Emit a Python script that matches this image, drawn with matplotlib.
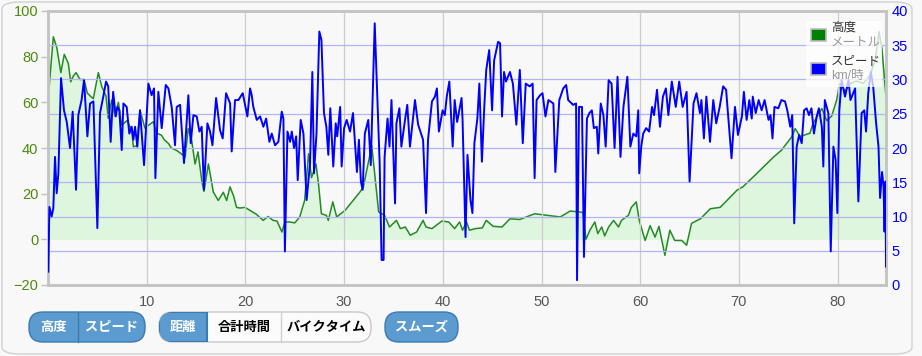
import matplotlib
matplotlib.use("Agg")
import matplotlib.pyplot as plt
from matplotlib.patches import FancyBboxPatch, Rectangle
import numpy as np

plt.rcParams['font.family'] = ['Liberation Sans', 'Noto Sans CJK JP', 'DejaVu Sans']

# elevation (m) against distance (km)
elev_km = [0.1, 0.54, 0.89, 1.3, 1.65, 2.06, 2.3, 2.56, 2.84, 3.24, 3.65, 3.98, 4.59, 5.1, 5.44,
           5.88, 6.1, 6.45, 6.79, 7.13, 7.47, 8.0, 8.48, 8.65, 8.99, 9.32, 9.83, 10.2, 10.67, 11.0,
           11.5, 11.8, 12.2, 12.5, 13.0, 13.5, 13.9, 14.2, 14.55, 14.9, 15.2, 15.6, 15.8, 16.25, 16.75,
           17.25, 17.76, 18.1, 18.44, 18.8, 19.1, 19.45, 19.96, 20.5, 21.1, 21.8, 22.3, 22.8, 23.2, 23.7,
           24.0, 24.5, 25.0, 25.5, 26.0, 26.4, 26.7, 27.15, 27.4, 27.7, 28.2, 28.4, 28.85, 29.25, 30.1,
           30.9, 31.6, 31.95, 32.8, 33.5, 34.1, 34.6, 35.3, 35.7, 36.2, 36.7, 37.35, 38.0, 38.3, 38.9,
           39.9, 40.6, 41.2, 41.7, 42.0, 42.4, 42.7, 43.3, 44.0, 44.4, 45.1, 46.0, 46.8, 47.8, 49.3,
           51.9, 52.9, 54.2, 54.5, 54.9, 55.4, 55.7, 56.1, 56.4, 56.8, 57.3, 57.8, 58.1, 58.8, 59.1,
           59.6, 59.9, 60.5, 61.0, 61.5, 61.9, 62.5, 63.0, 63.5, 64.2, 64.7, 65.2, 66.1, 67.1, 68.1,
           69.8, 70.4, 71.8, 73.5, 74.3, 75.35, 75.7, 76.2, 77.2, 77.5, 78.4, 78.9, 79.4, 79.9, 80.2,
           80.75, 81.3, 81.9, 82.6, 83.3, 83.8, 84.2, 84.5, 84.9]
elev_m = [66, 88.7, 84, 73, 81, 77, 69, 71.5, 73, 70, 70, 64, 61.6, 73, 67,
          62.7, 53, 61, 54, 60, 50, 52, 47.8, 40.5, 41, 56.6, 48.6, 50, 51.5, 46.5,
          45.6, 43.5, 42, 40, 39, 37.5, 36, 48.5, 43.5, 33, 38.3, 25, 21, 33, 20.7,
          17, 20.6, 17, 23, 19, 14, 13.7, 14, 12.6, 11, 8.3, 10, 8.3, 8, 3.2,
          7.6, 7.6, 7.2, 9.8, 17, 37.5, 27, 33, 24.4, 11.2, 10.5, 8.3, 16.4, 9.8, 12.7,
          17, 20.7, 23, 41, 12, 10.5, 5.4, 8.3, 4.7, 5.4, 1.8, 3.2, 8.3, 5.4, 4.7,
          8, 7.6, 4.7, 7.6, 4, 7.6, 4, 4.7, 5, 8.3, 5.7, 5.4, 9, 8.7, 11.2,
          9.8, 12.4, 11.8, 0, 4, 7.6, 2.5, 5.4, 1.5, 5.4, 8.3, 5.4, 8.3, 10.5, 14,
          16.4, 8.3, -0.5, 6, 1, 5.7, -7, 4, -0.5, -0.5, -2.6, 7, 9, 13.4, 14,
          21.5, 23, 28.8, 36, 39, 44.9, 48.5, 45, 46.5, 50.7, 57.3, 52, 54, 61, 68.3,
          65, 68.3, 69.4, 68.3, 72, 78.5, 91, 83, 62.4]

# speed (km/h) against distance (km)
spd_km = [0.03, 0.14, 0.37, 0.54, 0.71, 0.88, 1.05, 1.32, 1.62, 1.9, 2.23, 2.5, 2.84, 3.07, 3.4,
          3.65, 3.99, 4.26, 4.6, 5.0, 5.27, 5.6, 5.88, 6.1, 6.35, 6.6, 6.86, 7.03, 7.23, 7.47,
          7.64, 7.97, 8.24, 8.48, 8.65, 8.82, 9.05, 9.32, 9.73, 10.17, 10.5, 10.74, 10.88, 11.18, 11.52,
          11.93, 12.2, 12.53, 12.87, 13.04, 13.38, 13.78, 14.22, 14.46, 14.73, 15.07, 15.34, 15.57, 15.8, 16.15,
          16.42, 16.66, 17.03, 17.43, 17.7, 18.04, 18.45, 18.61, 18.95, 19.29, 19.73, 20.2, 20.47, 20.64, 20.8,
          21.15, 21.49, 21.82, 22.1, 22.43, 22.67, 23.0, 23.34, 23.68, 23.85, 24.0, 24.26, 24.53, 24.7, 24.93,
          25.14, 25.3, 25.6, 25.88, 26.2, 26.55, 26.78, 26.95, 27.2, 27.49, 27.7, 27.96, 28.2, 28.4, 28.6,
          28.9, 29.15, 29.3, 29.6, 29.75, 30.0, 30.26, 30.6, 30.9, 31.3, 31.5, 31.7, 31.88, 32.1, 32.45,
          32.7, 33.1, 33.37, 33.6, 33.8, 34.0, 34.1, 34.4, 34.6, 34.8, 35.16, 35.3, 35.6, 35.8, 36.17,
          36.4, 36.67, 37.18, 37.5, 38.0, 38.3, 38.5, 38.9, 39.2, 39.4, 39.6, 39.98, 40.2, 40.4, 40.66,
          41.0, 41.2, 41.45, 41.9, 42.0, 42.3, 42.5, 42.8, 43.0, 43.2, 43.5, 43.7, 43.96, 44.2, 44.4,
          44.7, 44.99, 45.2, 45.6, 45.8, 46.0, 46.2, 46.4, 46.8, 47.1, 47.45, 47.8, 48.1, 48.4, 48.8,
          49.1, 49.3, 49.5, 49.85, 50.1, 50.4, 50.7, 51.2, 51.4, 51.8, 52.2, 52.5, 52.7, 53.2, 53.5,
          53.6, 53.8, 54.1, 54.3, 54.6, 54.85, 55.1, 55.3, 55.6, 55.75, 56.0, 56.27, 56.5, 56.8, 57.1,
          57.4, 57.7, 58.0, 58.3, 58.7, 59.0, 59.3, 59.6, 59.8, 59.9, 60.1, 60.3, 60.6, 60.9, 61.2,
          61.4, 61.7, 62.0, 62.3, 62.6, 62.85, 63.2, 63.6, 63.95, 64.3, 64.7, 65.0, 65.4, 65.7, 66.05,
          66.2, 66.45, 66.7, 67.07, 67.4, 67.7, 68.05, 68.4, 68.7, 69.25, 69.6, 69.9, 70.3, 70.5, 70.78,
          71.05, 71.3, 71.4, 71.7, 72.0, 72.3, 72.6, 73.0, 73.2, 73.4, 73.6, 73.99, 74.3, 74.67, 74.9,
          75.2, 75.4, 75.6, 75.85, 76.1, 76.36, 76.6, 76.86, 77.1, 77.35, 77.6, 77.88, 78.1, 78.4, 78.55,
          78.7, 79.06, 79.3, 79.57, 79.8, 79.97, 80.17, 80.4, 80.75, 81.1, 81.3, 81.77, 82.1, 82.43, 82.7,
          82.88, 83.1, 83.36, 83.6, 83.9, 84.14, 84.3, 84.5, 84.65, 84.75, 84.85, 84.9]
spd_kmh = [1.95, 11.4, 10, 11.2, 18.7, 13.4, 16.3, 30.2, 25.5, 23.8, 20, 25.3, 13.9, 24.8, 27,
           29.9, 21.7, 26.5, 26.8, 8.3, 25.1, 27.5, 29.7, 29, 20.9, 28.2, 24.6, 26, 25.5, 19.7,
           26.5, 26, 22.1, 23.1, 21.2, 23.1, 20.2, 25.5, 17.5, 29.4, 27.7, 28.7, 15.6, 28.2, 22.9,
           29.2, 28.7, 26, 20.4, 26, 26.3, 17.8, 27.7, 20.7, 24.8, 24.6, 22.4, 23.1, 13.9, 23.6,
           22.4, 20.4, 27.3, 22.6, 21.4, 28, 26.5, 19.5, 27, 27, 28, 24.6, 28.7, 27.7, 26,
           24.1, 24.6, 23.1, 24.3, 20.9, 22.1, 20.4, 20.9, 25.3, 24.3, 4.9, 22.4, 20.9, 22.4, 20,
           21.7, 15.3, 24.1, 22.1, 12.4, 17.8, 31.1, 16.3, 22.1, 37, 35.8, 25.1, 23.1, 19, 25.8,
           17.3, 23.6, 21.7, 26, 17.3, 22.9, 24.1, 22.4, 25.1, 16.5, 21.2, 15.1, 13.9, 22.1, 24.1,
           17.5, 38.2, 27, 17.8, 3.65, 3.65, 18.7, 24.3, 20.2, 27, 11.9, 23.6, 25.8, 20.2, 24.1,
           26.3, 20.2, 27, 23.4, 21.2, 10.5, 21.2, 26.8, 27.5, 28.7, 22.4, 25.5, 24.8, 27.5, 29.7,
           20.2, 27, 23.8, 27.3, 24.1, 7, 19, 12.4, 10.5, 20.7, 24.3, 29.4, 18, 26, 31.4,
           34.3, 25.5, 32.8, 35.5, 35.3, 24.6, 31.1, 29.7, 31.1, 29.4, 23.4, 31.4, 20.7, 29.4, 29,
           29.4, 15.6, 27, 27.7, 28, 24.6, 27, 26.5, 16.5, 27, 28.7, 29.2, 27, 26.3, 26.5,
           0.7, 26, 26, 4.1, 24.3, 25.1, 25.5, 22.9, 23.1, 19.2, 26.5, 24.8, 20.2, 29.9, 29.4,
           20, 30.4, 18.7, 26, 30.4, 20.2, 22.1, 21.7, 25.5, 16.3, 20.2, 22.1, 22.9, 22.4, 26,
           24.8, 28.5, 23.1, 27.5, 28.7, 24.8, 29.7, 26, 29.7, 26, 28.2, 15.1, 26.5, 28, 25.1,
           27, 21.4, 27.5, 20.9, 27, 23.6, 26, 29, 28.5, 18.5, 26, 21.9, 24.6, 28.2, 24.1,
           27, 24.3, 27.5, 25.1, 27, 25.5, 27, 24.1, 24.8, 21.4, 26, 25.8, 27, 26.8, 25.5,
           23.1, 24.8, 9, 20.2, 21.9, 20.7, 25.5, 25.8, 24.8, 25.8, 22.1, 24.6, 25.8, 23.1, 17.3,
           27, 25.1, 4.9, 20.2, 18.2, 10.5, 25.5, 29.9, 27.5, 29.9, 27, 28.7, 12.2, 25.1, 25.5,
           22.4, 28, 31.1, 29, 23.6, 20.2, 12.7, 16.5, 14.4, 7.8, 15.1, 2.7]

x_ticks = [10, 20, 30, 40, 50, 60, 70, 80]
elev_ticks = [-20, 0, 20, 40, 60, 80, 100]
spd_ticks = [0, 5, 10, 15, 20, 25, 30, 35, 40]

W, H = 922, 356
fig = plt.figure(figsize=(W / 100, H / 100), dpi=100, facecolor='#f8f8f8')

# outer rounded panel
fig.patches.append(FancyBboxPatch((2 / W, 2 / H), (W - 12) / W, (H - 4) / H,
                                  boxstyle='round,pad=0,rounding_size=0.02',
                                  transform=fig.transFigure, facecolor='#f8f8f8',
                                  edgecolor='#d0d0d0', lw=1.0, zorder=-10))

L, R, T, B = 48, 886, 11, 285
ax = fig.add_axes([L / W, (H - B) / H, (R - L) / W, (B - T) / H])
ax.set_facecolor('#f8f8f8')

ax.fill_between(elev_km, elev_m, 0, color='#dcf6dc', lw=0, alpha=0.9, zorder=1)
ax.plot(elev_km, elev_m, color='#228b22', lw=1.1, zorder=2)

ax.set_xlim(0, 84.9)
ax.set_ylim(-20, 100)
ax.set_xticks(x_ticks)
ax.set_yticks(elev_ticks)
ax.tick_params(axis='y', colors='#c0c0c0', labelcolor='#4f8a10', labelsize=10.5, length=5, width=1, pad=2)
ax.tick_params(axis='x', length=0, labelcolor='#555555', labelsize=10.5, pad=7)

ax2 = ax.twinx()
ax2.set_ylim(0, 40)
ax2.set_yticks(spd_ticks)
ax2.tick_params(axis='y', length=0, labelcolor='#0000ff', labelsize=10.5, pad=4)
ax2.grid(axis='y', color='#b4b4f4', lw=0.9)
for xv in x_ticks:
    ax2.axvline(xv, color='#cccccc', lw=0.9, zorder=0)
ax2.plot(spd_km, spd_kmh, color='#0000ff', lw=1.4, zorder=3)

for a in (ax, ax2):
    for s in a.spines.values():
        s.set_color('#c4c4c4')
        s.set_linewidth(1.8)

# legend, placed in pixel terms inside the plot
def fy(py):
    return (B - py) / (B - T)
def fx(px):
    return (px - L) / (R - L)
ax2.add_patch(Rectangle((fx(806), fy(87)), fx(882) - fx(806), fy(21) - fy(87),
                        transform=ax2.transAxes, facecolor='white', alpha=0.75, lw=0, zorder=5))
for py, col, t1, t2 in [(35, '#008000', '高度', 'メートル'), (69, '#0000ff', 'スピード', 'km/時')]:
    ax2.add_patch(Rectangle((fx(811), fy(py + 6)), fx(826) - fx(811), fy(py - 6) - fy(py + 6),
                            transform=ax2.transAxes, facecolor=col, edgecolor='#bbbbbb',
                            lw=1.2, zorder=6))
    ax2.text(fx(831), fy(py - 7), t1, transform=ax2.transAxes, fontsize=9, color='#333333',
             va='center', ha='left', zorder=7)
    ax2.text(fx(831), fy(py + 7.5), t2, transform=ax2.transAxes, fontsize=9, color='#999999',
             va='center', ha='left', zorder=7)

# buttons under the chart
Y0, Y1 = 312, 342
def button(x0, x1, face, edge):
    p = FancyBboxPatch((x0 / W, (H - Y1) / H), (x1 - x0) / W, (Y1 - Y0) / H,
                       boxstyle='round,pad=0,rounding_size=0.015',
                       transform=fig.transFigure, facecolor=face,
                       edgecolor=edge, lw=1.0, mutation_aspect=W / H)
    fig.patches.append(p)
    return p

blue, blue_edge = '#5b9bd0', '#3c79b1'
button(29, 145, blue, blue_edge)
grp = button(159, 371, '#fbfbfb', '#c8c8c8')
act = Rectangle((159 / W, (H - Y1) / H), (207 - 159) / W, (Y1 - Y0) / H,
                transform=fig.transFigure, facecolor=blue, edgecolor=blue_edge, lw=1.5)
act.set_clip_path(grp)
fig.patches.append(act)
button(385, 458, blue, blue_edge)
fig.add_artist(plt.Line2D([78 / W, 78 / W], [(H - Y1) / H, (H - Y0) / H], color=blue_edge, lw=1))
fig.add_artist(plt.Line2D([281 / W, 281 / W], [(H - Y1) / H, (H - Y0) / H], color='#d0d0d0', lw=1))

labels = [(53, '高度', 'white'), (111, 'スピード', 'white'), (183, '距離', 'white'),
          (244, '合計時間', 'black'), (326, 'バイクタイム', 'black'), (421, 'スムーズ', 'white')]
for cx, t, c in labels:
    fig.text(cx / W, (H - 327) / H, t, ha='center', va='center', color=c, fontsize=9.5,
             fontweight='bold', family=['Noto Sans CJK JP', 'DejaVu Sans'])

fig.savefig('out.png', dpi=100, facecolor=fig.get_facecolor())
